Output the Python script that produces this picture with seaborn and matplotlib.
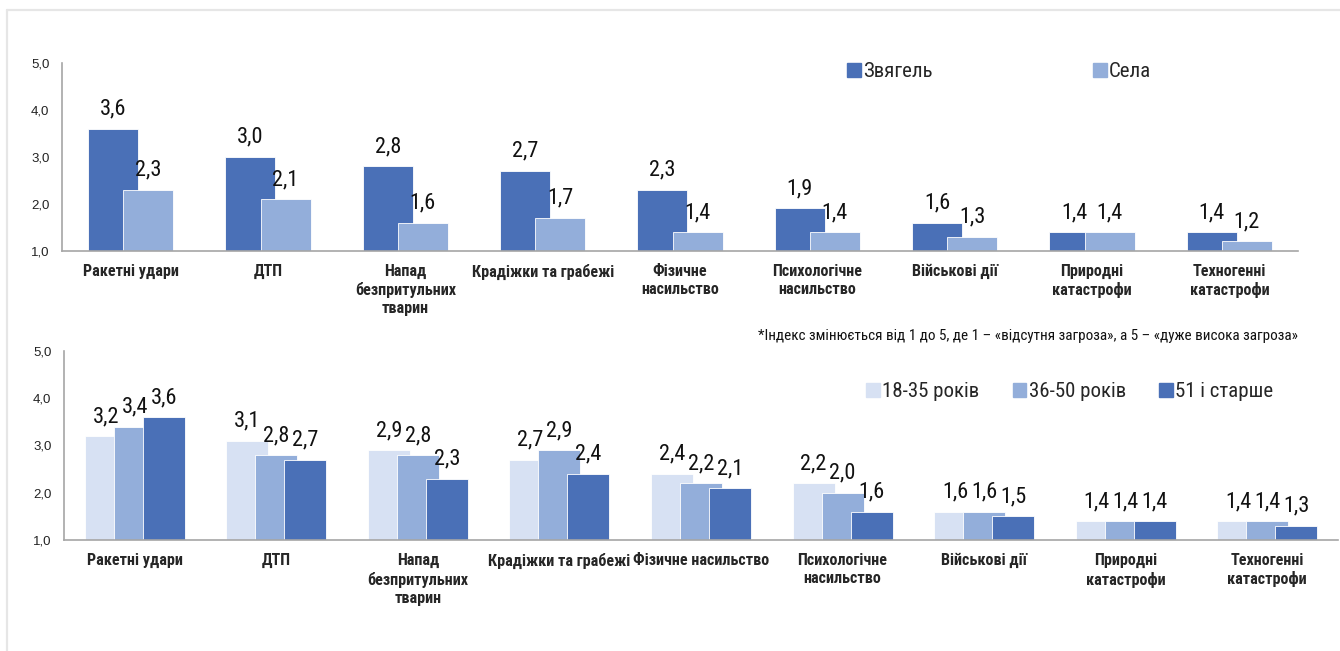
import numpy as np
import pandas as pd
import matplotlib.pyplot as plt
import seaborn as sns
from matplotlib.lines import Line2D
from matplotlib.patches import Patch

# data
cats_top = ["Ракетні удари", "ДТП", "Напад\nбезпритульних\nтварин", "Крадіжки та грабежі",
            "Фізичне\nнасильство", "Психологічне\nнасильство", "Військові дії",
            "Природні\nкатастрофи", "Техногенні\nкатастрофи"]
cats_bottom = ["Ракетні удари", "ДТП", "Напад\nбезпритульних\nтварин", "Крадіжки та грабежі",
               "Фізичне насильство", "Психологічне\nнасильство", "Військові дії",
               "Природні\nкатастрофи", "Техногенні\nкатастрофи"]

zviahel = [3.6, 3.0, 2.8, 2.7, 2.3, 1.9, 1.6, 1.4, 1.4]
sela = [2.3, 2.1, 1.6, 1.7, 1.4, 1.4, 1.3, 1.4, 1.2]

age_18_35 = [3.2, 3.1, 2.9, 2.7, 2.4, 2.2, 1.6, 1.4, 1.4]
age_36_50 = [3.4, 2.8, 2.8, 2.9, 2.2, 2.0, 1.6, 1.4, 1.4]
age_51 = [3.6, 2.7, 2.3, 2.4, 2.1, 1.6, 1.5, 1.4, 1.3]

groups_top = ["Звягель", "Села"]
groups_bottom = ["18-35 років", "36-50 років", "51 і старше"]
yticks = [1, 2, 3, 4, 5]
note = "*Індекс змінюється від 1 до 5, де 1 – «відсутня загроза», а 5 – «дуже висока загроза»"

DARK = "#4A70B7"
MID = "#93AEDA"
LIGHT = "#D7E1F3"
GREY = "#A6A6A6"

sns.set_style("white")
plt.rcParams["font.family"] = ["Roboto Condensed", "Liberation Sans", "DejaVu Sans"]

df_top = pd.DataFrame({
    "cat": np.repeat(np.arange(9), 2),
    "group": groups_top * 9,
    "value": np.ravel(np.column_stack([zviahel, sela])),
})
df_bottom = pd.DataFrame({
    "cat": np.repeat(np.arange(9), 3),
    "group": groups_bottom * 9,
    "value": np.ravel(np.column_stack([age_18_35, age_36_50, age_51])),
})

W, H = 1340, 651
fig = plt.figure(figsize=(W / 100, H / 100), dpi=100)

# light frame at left / top
fig.add_artist(Line2D([7 / W, 7 / W], [0, 1 - 10 / H], color="#E6E6E6", lw=1.6))
fig.add_artist(Line2D([7 / W, 1], [1 - 10 / H, 1 - 10 / H], color="#E6E6E6", lw=1.6))

ax1 = fig.add_axes([62 / W, 1 - 250.7 / H, 1236 / W, 188 / H])
ax2 = fig.add_axes([64 / W, 1 - 540 / H, 1274 / W, 189 / H])


def draw(ax, df, groups, palette, labels, bar_w, step, label_off):
    sns.barplot(data=df, x="cat", y="value", hue="group", hue_order=groups,
                palette=palette, saturation=1, dodge=True, legend=False,
                edgecolor="white", linewidth=0.6, ax=ax)
    n = len(groups)
    # overlapping bars, as in the original
    for i, cont in enumerate(ax.containers):
        off = (i - (n - 1) / 2) * step
        for j, bar in enumerate(cont):
            bar.set_width(bar_w)
            bar.set_x(j + off - bar_w / 2)
            v = bar.get_height()
            ax.annotate(f"{v:.1f}".replace(".", ","), (j + off, v),
                        xytext=(0, label_off), textcoords="offset points",
                        ha="center", va="center", fontsize=16, color="#111111")
    ax.set_xlim(-0.5, 8.5)
    ax.set_ylim(1, 5)
    ax.set_yticks(yticks)
    ax.set_yticklabels([f"{t:.1f}".replace(".", ",") for t in yticks],
                       fontsize=9.5, family=["Liberation Sans", "DejaVu Sans"], color="#222222")
    ax.set_xticks(range(9))
    ax.set_xticklabels(labels, fontweight="bold", fontsize=11.6, linespacing=1.25)
    ax.set_xticks(np.arange(-0.5, 9, 1), minor=True)
    ax.tick_params(axis="x", which="major", length=0, pad=9.5)
    ax.tick_params(axis="x", which="minor", length=4.5, width=1, color=GREY, direction="out")
    ax.tick_params(axis="y", length=3, width=1, color=GREY, direction="out", pad=6)
    ax.set_xlabel("")
    ax.set_ylabel("")
    for s in ["top", "right"]:
        ax.spines[s].set_visible(False)
    for s in ["left", "bottom"]:
        ax.spines[s].set_color(GREY)
        ax.spines[s].set_linewidth(1.2)


draw(ax1, df_top, groups_top, [DARK, MID], cats_top, 0.364, 0.255, 14)
draw(ax2, df_bottom, groups_bottom, [LIGHT, MID, DARK], cats_bottom, 0.297, 0.205, 14)

# legends
h_top = [Patch(color=c) for c in [DARK, MID]]
fig.legend(h_top, groups_top, loc="center left", bbox_to_anchor=(847 / W, 1 - 71.7 / H),
           ncol=2, frameon=False, fontsize=15, handlelength=0.65, handleheight=0.65,
           handletextpad=0.12, columnspacing=7.7, borderpad=0, borderaxespad=0)
h_bot = [Patch(color=c) for c in [LIGHT, MID, DARK]]
fig.legend(h_bot, groups_bottom, loc="center left", bbox_to_anchor=(866 / W, 1 - 391.7 / H),
           ncol=3, frameon=False, fontsize=15, handlelength=0.65, handleheight=0.65,
           handletextpad=0.12, columnspacing=1.6, borderpad=0, borderaxespad=0)

fig.text(1298 / W, 1 - 336 / H, note, ha="right", va="center", fontsize=10.9, color="#111111")

plt.savefig("out.png", dpi=100)
